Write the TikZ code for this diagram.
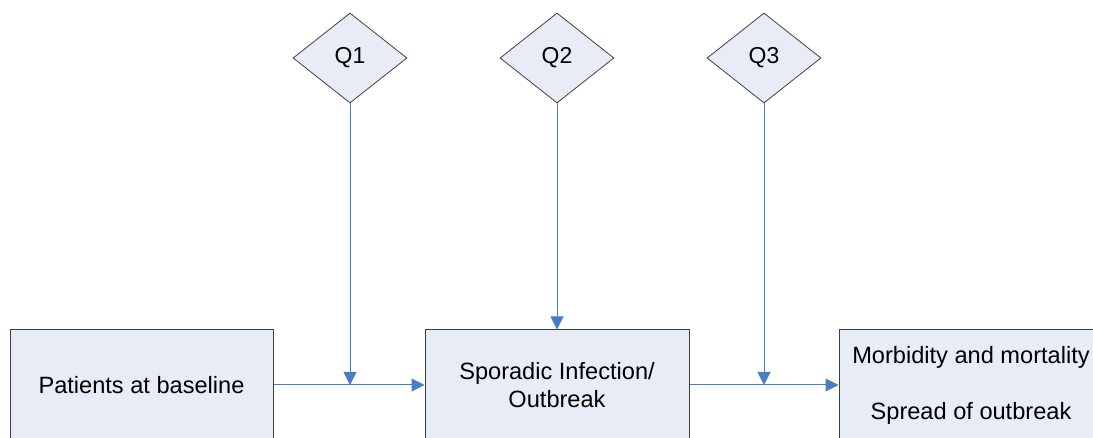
\documentclass[tikz,border=0pt]{standalone}
\usepackage{fontspec}
\setmainfont{Liberation Sans}
\usetikzlibrary{shapes.geometric,arrows.meta}
\definecolor{boxfill}{HTML}{E7ECF7}
\definecolor{boxline}{HTML}{404040}
\definecolor{arrowblue}{HTML}{4A7EC4}
\tikzset{
  stagebox/.style={draw=boxline, fill=boxfill, line width=1pt, minimum width=264pt, minimum height=110pt, inner sep=0pt, align=center, font=\fontsize{23.6}{28}\selectfont},
  qbox/.style={diamond, draw=boxline, fill=boxfill, line width=0.8pt, minimum width=114pt, minimum height=90pt, inner sep=0pt, aspect=1.27, font=\fontsize{23}{25}\selectfont},
  flow/.style={draw=arrowblue, line width=1pt, -{Triangle[length=13pt,width=13pt]}}
}
\begin{document}
\begin{tikzpicture}[x=1pt,y=-1pt]
\useasboundingbox (0,0) rectangle (1093,438);
\clip (0,0) rectangle (1093,438);
\node[stagebox, minimum width=263pt] (b1) at (141.5,385) {Patients at baseline};
\node[stagebox, minimum width=264pt] (b2) at (557,385) {Sporadic Infection/\\Outbreak};
\node[stagebox, minimum width=264pt, font=\fontsize{23.6}{56}\selectfont] (b3) at (971,385) {Morbidity and mortality\\Spread of outbreak};
\node[qbox] (q1) at (350,58) {Q1};
\node[qbox] (q2) at (557,58) {Q2};
\node[qbox] (q3) at (764,58) {Q3};
\draw[flow] (b1.east) -- (b2.west);
\draw[flow] (b2.east) -- (b3.west);
\coordinate (j1) at (q1.south |- b1.east);
\coordinate (j3) at (q3.south |- b2.east);
\draw[flow] (q1.south) -- (j1);
\draw[flow] (q2.south) -- (b2.north);
\draw[flow] (q3.south) -- (j3);
\end{tikzpicture}
\end{document}
